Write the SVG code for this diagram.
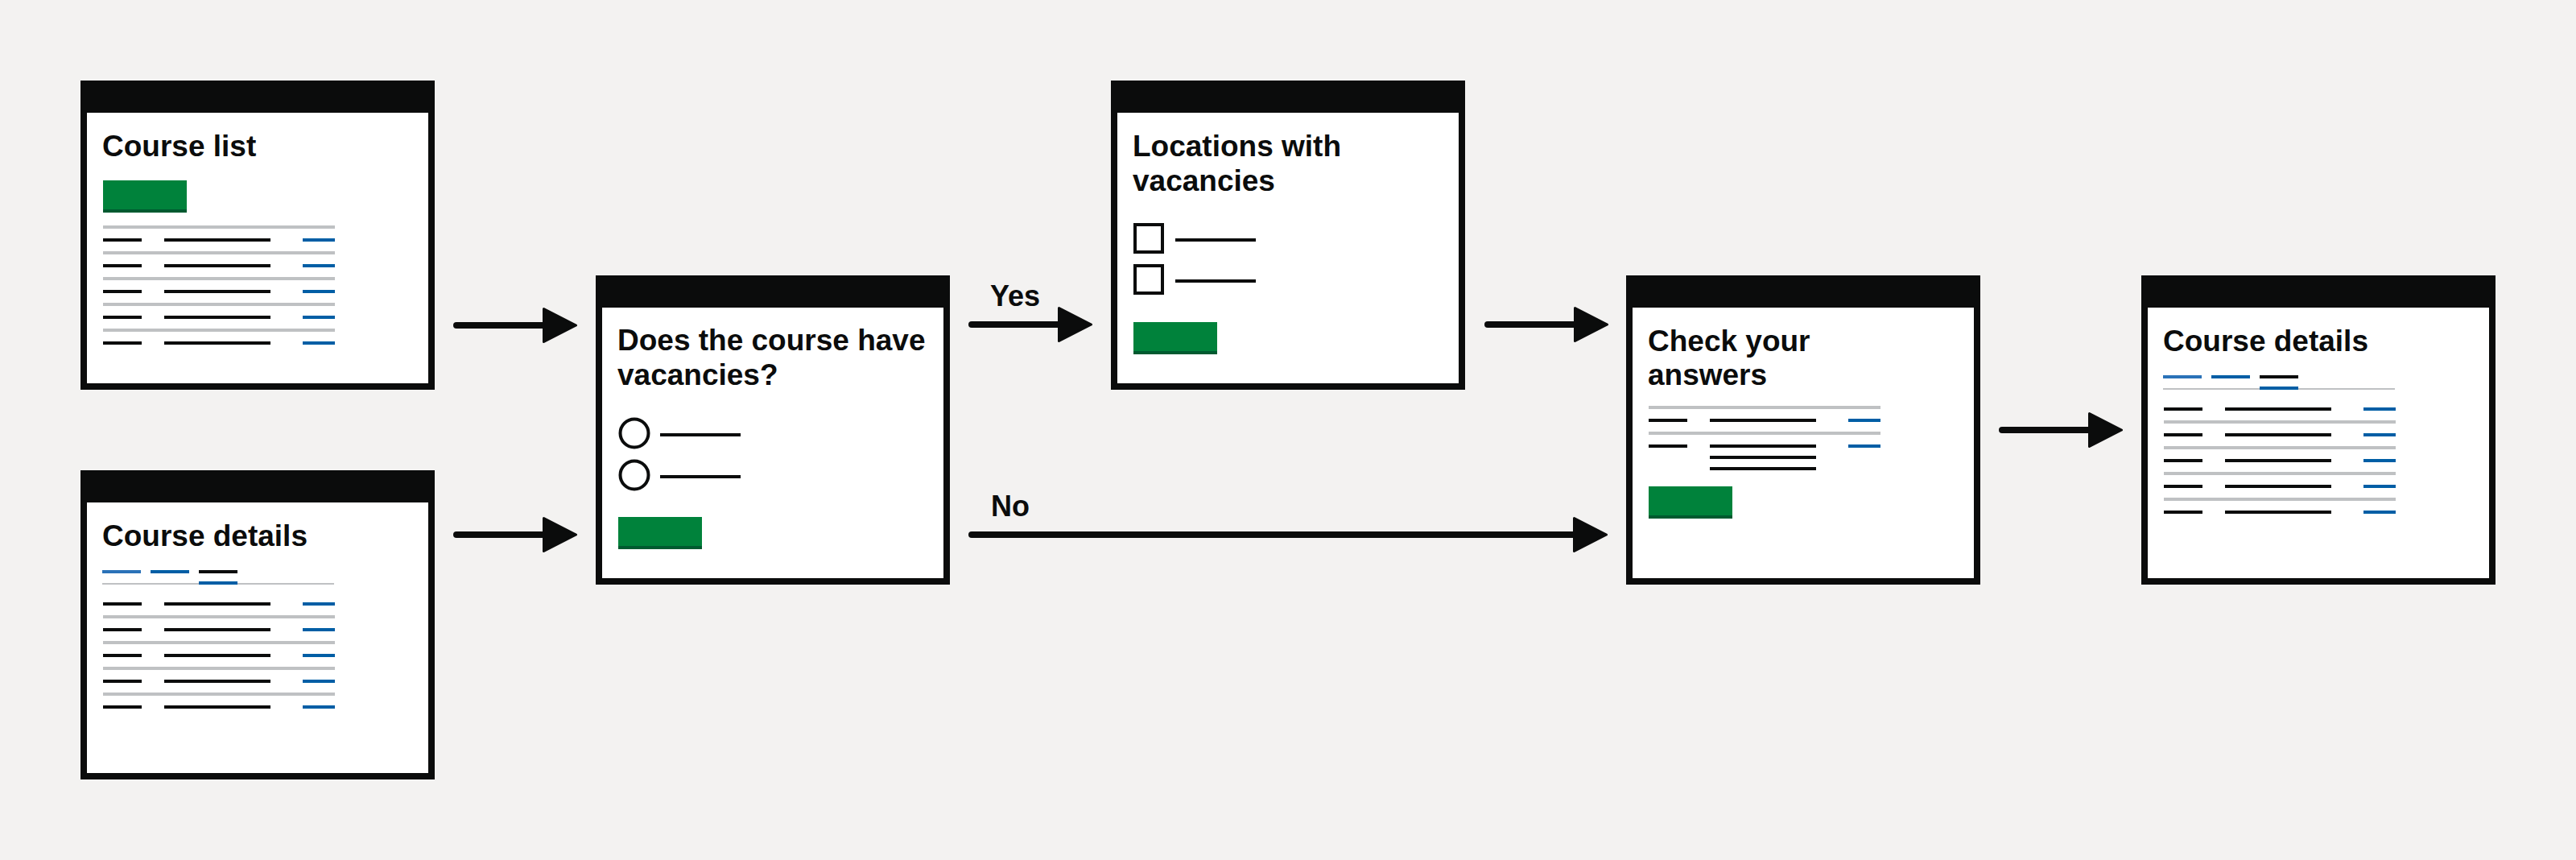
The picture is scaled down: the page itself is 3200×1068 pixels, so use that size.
<svg xmlns="http://www.w3.org/2000/svg" width="3200" height="1068" viewBox="0 0 3200 1068">
<style>
.frame{fill:#0b0c0c}
.page{fill:#ffffff}
.title{font-family:"Liberation Sans",Arial,sans-serif;font-weight:bold;font-size:37px;fill:#0b0c0c}
.label{font-family:"Liberation Sans",Arial,sans-serif;font-weight:bold;font-size:36px;fill:#0b0c0c}
.btn{fill:#00823b}
.btnsh{fill:#005a30}
.k{fill:#0b0c0c}
.b{fill:#005ea5}
.bl{fill:#2b72b8}
.g{fill:#bfc1c3}
.radio{fill:#ffffff;stroke:#0b0c0c;stroke-width:4}
.conn{stroke:#0b0c0c;stroke-width:8;stroke-linecap:round;fill:none}
</style>
<defs>
<marker id="ah" viewBox="0 0 44 44" markerWidth="44" markerHeight="44" refX="2" refY="22" orient="auto" markerUnits="userSpaceOnUse">
<path d="M1.5,1.5 L41.5,22 L1.5,42.5 Z" fill="#0b0c0c" stroke="#0b0c0c" stroke-width="3" stroke-linejoin="round"/>
</marker>
</defs>
<rect x="0" y="0" width="3200" height="1068" fill="#f3f2f1"/>

<g id="course-list">
<rect class="frame" x="100" y="100" width="440" height="384"/>
<rect class="page" x="108" y="140" width="424" height="336"/>
<text class="title" x="127" y="194">Course list</text>
<rect class="btn" x="128" y="224" width="104" height="40"/>
<rect class="btnsh" x="128" y="260" width="104" height="4"/>
<rect class="g" x="128" y="280" width="288" height="4"/>
<rect class="g" x="128" y="312" width="288" height="4"/>
<rect class="g" x="128" y="344" width="288" height="4"/>
<rect class="g" x="128" y="376" width="288" height="4"/>
<rect class="g" x="128" y="408" width="288" height="4"/>
<rect class="k" x="128" y="296" width="48" height="4"/><rect class="k" x="204" y="296" width="132" height="4"/><rect class="b" x="376" y="296" width="40" height="4"/>
<rect class="k" x="128" y="328" width="48" height="4"/><rect class="k" x="204" y="328" width="132" height="4"/><rect class="b" x="376" y="328" width="40" height="4"/>
<rect class="k" x="128" y="360" width="48" height="4"/><rect class="k" x="204" y="360" width="132" height="4"/><rect class="b" x="376" y="360" width="40" height="4"/>
<rect class="k" x="128" y="392" width="48" height="4"/><rect class="k" x="204" y="392" width="132" height="4"/><rect class="b" x="376" y="392" width="40" height="4"/>
<rect class="k" x="128" y="424" width="48" height="4"/><rect class="k" x="204" y="424" width="132" height="4"/><rect class="b" x="376" y="424" width="40" height="4"/>
</g>

<g id="course-details-start">
<rect class="frame" x="100" y="584" width="440" height="384"/>
<rect class="page" x="108" y="624" width="424" height="336"/>
<text class="title" x="127" y="678">Course details</text>
<rect class="bl" x="127" y="708" width="48" height="4"/>
<rect class="b" x="187" y="708" width="48" height="4"/>
<rect class="k" x="247" y="708" width="48" height="4"/>
<rect class="g" x="127" y="724" width="288" height="2"/>
<rect class="b" x="247" y="722" width="48" height="4"/>
<rect class="g" x="128" y="764" width="288" height="4"/>
<rect class="g" x="128" y="796" width="288" height="4"/>
<rect class="g" x="128" y="828" width="288" height="4"/>
<rect class="g" x="128" y="860" width="288" height="4"/>
<rect class="k" x="128" y="748" width="48" height="4"/><rect class="k" x="204" y="748" width="132" height="4"/><rect class="b" x="376" y="748" width="40" height="4"/>
<rect class="k" x="128" y="780" width="48" height="4"/><rect class="k" x="204" y="780" width="132" height="4"/><rect class="b" x="376" y="780" width="40" height="4"/>
<rect class="k" x="128" y="812" width="48" height="4"/><rect class="k" x="204" y="812" width="132" height="4"/><rect class="b" x="376" y="812" width="40" height="4"/>
<rect class="k" x="128" y="844" width="48" height="4"/><rect class="k" x="204" y="844" width="132" height="4"/><rect class="b" x="376" y="844" width="40" height="4"/>
<rect class="k" x="128" y="876" width="48" height="4"/><rect class="k" x="204" y="876" width="132" height="4"/><rect class="b" x="376" y="876" width="40" height="4"/>
</g>

<g id="vacancies-question">
<rect class="frame" x="740" y="342" width="440" height="384"/>
<rect class="page" x="748" y="382" width="424" height="336"/>
<text class="title" x="767" y="435">Does the course have</text>
<text class="title" x="767" y="478">vacancies?</text>
<circle class="radio" cx="788" cy="538" r="17.5"/>
<rect class="k" x="820" y="538" width="100" height="4"/>
<circle class="radio" cx="788" cy="590" r="17.5"/>
<rect class="k" x="820" y="590" width="100" height="4"/>
<rect class="btn" x="768" y="642" width="104" height="40"/>
<rect class="btnsh" x="768" y="678" width="104" height="4"/>
</g>

<g id="locations-with-vacancies">
<rect class="frame" x="1380" y="100" width="440" height="384"/>
<rect class="page" x="1388" y="140" width="424" height="336"/>
<text class="title" x="1407" y="194">Locations with</text>
<text class="title" x="1407" y="237">vacancies</text>
<rect class="radio" x="1410" y="279" width="34" height="34"/>
<rect class="k" x="1460" y="296" width="100" height="4"/>
<rect class="radio" x="1410" y="330" width="34" height="34"/>
<rect class="k" x="1460" y="347" width="100" height="4"/>
<rect class="btn" x="1408" y="400" width="104" height="40"/>
<rect class="btnsh" x="1408" y="436" width="104" height="4"/>
</g>

<g id="check-your-answers">
<rect class="frame" x="2020" y="342" width="440" height="384"/>
<rect class="page" x="2028" y="382" width="424" height="336"/>
<text class="title" x="2047" y="436">Check your</text>
<text class="title" x="2047" y="478">answers</text>
<rect class="g" x="2048" y="504" width="288" height="4"/>
<rect class="k" x="2048" y="520" width="48" height="4"/><rect class="k" x="2124" y="520" width="132" height="4"/><rect class="b" x="2296" y="520" width="40" height="4"/>
<rect class="g" x="2048" y="536" width="288" height="4"/>
<rect class="k" x="2048" y="552" width="48" height="4"/><rect class="k" x="2124" y="552" width="132" height="4"/><rect class="b" x="2296" y="552" width="40" height="4"/>
<rect class="k" x="2124" y="566" width="132" height="4"/>
<rect class="k" x="2124" y="580" width="132" height="4"/>
<rect class="btn" x="2048" y="604" width="104" height="40"/>
<rect class="btnsh" x="2048" y="640" width="104" height="4"/>
</g>

<g id="course-details-end">
<rect class="frame" x="2660" y="342" width="440" height="384"/>
<rect class="page" x="2668" y="382" width="424" height="336"/>
<text class="title" x="2687" y="436">Course details</text>
<rect class="bl" x="2687" y="466" width="48" height="4"/>
<rect class="b" x="2747" y="466" width="48" height="4"/>
<rect class="k" x="2807" y="466" width="48" height="4"/>
<rect class="g" x="2687" y="482" width="288" height="2"/>
<rect class="b" x="2807" y="480" width="48" height="4"/>
<rect class="g" x="2688" y="522" width="288" height="4"/>
<rect class="g" x="2688" y="554" width="288" height="4"/>
<rect class="g" x="2688" y="586" width="288" height="4"/>
<rect class="g" x="2688" y="618" width="288" height="4"/>
<rect class="k" x="2688" y="506" width="48" height="4"/><rect class="k" x="2764" y="506" width="132" height="4"/><rect class="b" x="2936" y="506" width="40" height="4"/>
<rect class="k" x="2688" y="538" width="48" height="4"/><rect class="k" x="2764" y="538" width="132" height="4"/><rect class="b" x="2936" y="538" width="40" height="4"/>
<rect class="k" x="2688" y="570" width="48" height="4"/><rect class="k" x="2764" y="570" width="132" height="4"/><rect class="b" x="2936" y="570" width="40" height="4"/>
<rect class="k" x="2688" y="602" width="48" height="4"/><rect class="k" x="2764" y="602" width="132" height="4"/><rect class="b" x="2936" y="602" width="40" height="4"/>
<rect class="k" x="2688" y="634" width="48" height="4"/><rect class="k" x="2764" y="634" width="132" height="4"/><rect class="b" x="2936" y="634" width="40" height="4"/>
</g>

<g id="connectors">
<line class="conn" x1="567" y1="404" x2="676" y2="404" marker-end="url(#ah)"/>
<line class="conn" x1="567" y1="664" x2="676" y2="664" marker-end="url(#ah)"/>
<line class="conn" x1="1207" y1="403" x2="1316" y2="403" marker-end="url(#ah)"/>
<text class="label" x="1230" y="380">Yes</text>
<line class="conn" x1="1207" y1="664" x2="1956" y2="664" marker-end="url(#ah)"/>
<text class="label" x="1231" y="641">No</text>
<line class="conn" x1="1848" y1="403" x2="1957" y2="403" marker-end="url(#ah)"/>
<line class="conn" x1="2487" y1="534" x2="2596" y2="534" marker-end="url(#ah)"/>
</g>
</svg>
